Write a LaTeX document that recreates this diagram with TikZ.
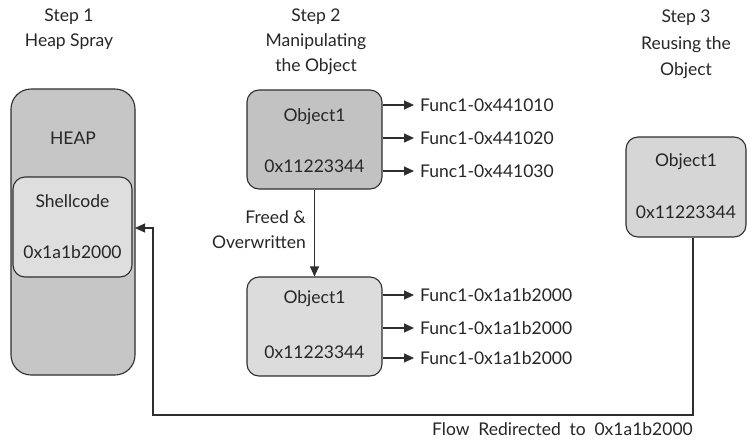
\documentclass[tikz,border=0pt]{standalone}
\usepackage{fontspec}
\setmainfont{Lato}
\usetikzlibrary{arrows.meta}
\definecolor{lineclr}{HTML}{2E2E2E}
\definecolor{heapfill}{HTML}{C6C6C6}
\definecolor{shellfill}{HTML}{DEDEDE}
\definecolor{objdark}{HTML}{C2C2C2}
\definecolor{objlight}{HTML}{DCDCDC}
\definecolor{objmid}{HTML}{D6D6D6}
\tikzset{
  box/.style={draw=lineclr, line width=1.1pt, rounded corners=#1, inner sep=0pt},
  box/.default=14pt,
  txt/.style={font=\fontsize{17.5}{20}\selectfont, text=black!85, inner sep=0pt},
  ttl/.style={txt, align=center},
  link/.style={draw=lineclr, line width=1.1pt, -{Triangle[length=10pt,width=9pt]}},
}
\begin{document}
\begin{tikzpicture}[x=1pt,y=-1pt]
\useasboundingbox (0,0) rectangle (755,440);

% step titles
\node[ttl] (t1a) at (69,17) {Step 1};
\node[ttl] (t1b) at (69,42) {Heap Spray};
\node[ttl] (t2a) at (316,17) {Step 2};
\node[ttl] (t2b) at (316,42) {Manipulating};
\node[ttl] (t2c) at (316,67) {the Object};
\node[ttl] (t3a) at (686,18) {Step 3};
\node[ttl] (t3b) at (686,45) {Reusing the};
\node[ttl] (t3c) at (686,71) {Object};

% heap
\node[box=20pt, fill=heapfill, minimum width=124pt, minimum height=286pt] (heap) at (73,232) {};
\node[txt] (heapl) at (73,138) {HEAP};
\node[box=12pt, fill=shellfill, minimum width=119pt, minimum height=100pt] (shell) at (72.5,227) {};
\node[txt] (shl1) at (72.5,201) {Shellcode};
\node[txt] (shl2) at (72.5,252) {0x1a1b2000};

% step 2 top object
\node[box=12pt, fill=objdark, minimum width=135pt, minimum height=99pt] (oA) at (314.5,139.5) {};
\node[txt] (oA1) at (314.5,117) {Object1};
\node[txt] (oA2) at (314.5,166) {0x11223344};

% step 2 bottom object
\node[box=12pt, fill=objlight, minimum width=135pt, minimum height=99pt] (oB) at (314.5,326.5) {};
\node[txt] (oB1) at (314.5,299) {Object1};
\node[txt] (oB2) at (314.5,352) {0x11223344};

% step 3 object
\node[box=12pt, fill=objmid, minimum width=120pt, minimum height=100pt] (oC) at (686,187) {};
\node[txt] (oC1) at (686,162) {Object1};
\node[txt] (oC2) at (686,212) {0x11223344};

% functions
\node[txt, anchor=west] (fa1) at (420,105) {Func1-0x441010};
\node[txt, anchor=west] (fa2) at (420,138) {Func1-0x441020};
\node[txt, anchor=west] (fa3) at (420,171) {Func1-0x441030};
\node[txt, anchor=west] (fb1) at (420,295) {Func1-0x1a1b2000};
\node[txt, anchor=west] (fb2) at (420,328) {Func1-0x1a1b2000};
\node[txt, anchor=west] (fb3) at (420,358) {Func1-0x1a1b2000};

\foreach \f in {fa1,fa2,fa3} {
  \draw[link, shorten >=6pt] (oA.east |- \f.west) -- (\f.west);
}
\foreach \f in {fb1,fb2,fb3} {
  \draw[link, shorten >=6pt] (oB.east |- \f.west) -- (\f.west);
}

% freed arrow
\draw[link] (oA.south) -- (oB.north);
\node[txt, align=right, anchor=east] (fr1) at (306,217) {Freed \&};
\node[txt, align=right, anchor=east] (fr2) at (306,242) {Overwritten};

% flow redirect
\coordinate (c1) at (693,415);
\coordinate (c2) at (153,415);
\coordinate (tip) at (135,228);
\draw[link] (oC.south -| c1) -- (c1) -- (c2) |- (tip);
\node[txt, anchor=east] (flow) at (693,429) {\spaceskip=0.5em Flow Redirected to 0x1a1b2000};
\end{tikzpicture}
\end{document}
